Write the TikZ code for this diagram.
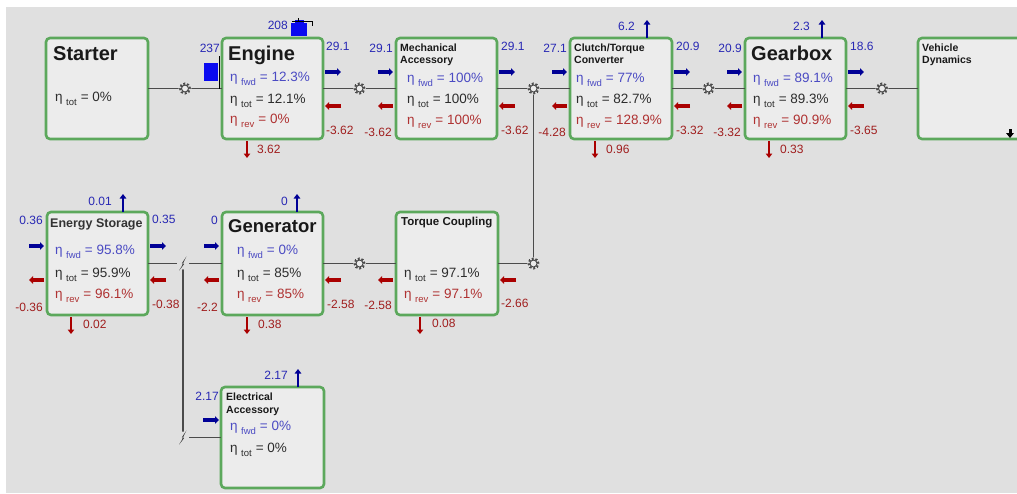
\documentclass[tikz,border=0pt]{standalone}
\usepackage{fontspec}
\setmainfont{Liberation Sans}
\usetikzlibrary{arrows.meta,calc}
\definecolor{bgc}{RGB}{224,224,224}
\definecolor{boxfill}{RGB}{236,236,236}
\definecolor{boxgreen}{RGB}{92,168,92}
\definecolor{connc}{RGB}{75,75,75}
\definecolor{numblue}{RGB}{40,40,180}
\definecolor{numred}{RGB}{160,30,30}
\definecolor{fwdblue}{RGB}{75,75,195}
\definecolor{totgray}{RGB}{45,45,45}
\definecolor{revred}{RGB}{175,50,50}
\definecolor{arrblue}{RGB}{0,0,150}
\definecolor{arrred}{RGB}{170,0,0}
\definecolor{fuelblue}{RGB}{10,10,240}
\newcommand\eline[2]{η\hspace{3.5pt}\raisebox{-4.5pt}{\fontsize{9.5}{9.5}\selectfont #1}\hspace{4pt}= #2}
\newcommand\lpair[2]{\draw[ba] (#1-18,#2-17) -- (#1-3,#2-17); \draw[ra] (#1-3,#2+17) -- (#1-18,#2+17);}
\newcommand\rpair[2]{\draw[ba] (#1+2,#2-17) -- (#1+18,#2-17); \draw[ra] (#1+18,#2+17) -- (#1+2,#2+17);}
\begin{document}
\begin{tikzpicture}[x=1pt,y=-1pt,
  blk/.style={draw=boxgreen, line width=2.6pt, fill=boxfill, rounded corners=4pt, anchor=north west, inner sep=0, outer sep=0},
  bigtitle/.style={font=\fontsize{20}{22}\selectfont\bfseries, text=black!90, inner sep=0, anchor=base west},
  smalltitle/.style={font=\fontsize{10.5}{12}\selectfont\bfseries, text=black!90, inner sep=0, anchor=base west},
  eta/.style={font=\fontsize{13.5}{14}\selectfont, inner sep=0, anchor=base west},
  fwd/.style={eta, text=fwdblue},
  tot/.style={eta, text=totgray},
  rev/.style={eta, text=revred},
  num/.style={font=\fontsize{12}{12}\selectfont, inner sep=0},
  bnum/.style={num, text=numblue},
  rnum/.style={num, text=numred},
  conn/.style={draw=connc, line width=1.3pt},
  ba/.style={draw=arrblue, line width=3.6pt, -{Triangle[length=4pt,width=7.5pt]}},
  ra/.style={draw=arrred, line width=3.6pt, -{Triangle[length=4pt,width=7.5pt]}},
  ua/.style={draw=arrblue, line width=2.4pt, -{Triangle[length=4.5pt,width=6.5pt]}},
  da/.style={draw=arrred, line width=2.8pt, -{Triangle[length=4.5pt,width=6.5pt]}},
  gear/.pic={
    \fill[bgc] (0,0) circle (6.4pt);
    \draw[connc, line width=2pt, dash pattern=on 1.9pt off 1.9pt] (0,0) circle (5pt);
    \draw[connc, line width=1pt, fill=boxfill] (0,0) circle (3.5pt);
  },
  bolt/.pic={
    \fill[bgc] (0,0) circle (6pt);
    \fill[black!80] (-3.8,7) -- (0.7,-0.7) -- (-1.1,-0.2) -- (3.5,-7) -- (-0.7,1.1) -- (1.1,0.6) -- cycle;
  }]
\useasboundingbox (0,0) rectangle (1017,493);
\clip (0,0) rectangle (1017,493);
\fill[white] (0,0) rectangle (1017,493);
\fill[bgc] (6,7) rectangle (1017,493);

% ---------- boxes ----------
\node[blk, minimum width=102pt, minimum height=101pt] (starter) at (46,38) {};
\node[blk, minimum width=101pt, minimum height=101pt] (engine) at (222,38) {};
\node[blk, minimum width=101pt, minimum height=101pt] (mech) at (396,38) {};
\node[blk, minimum width=102pt, minimum height=101pt] (clutch) at (570,38) {};
\node[blk, minimum width=101pt, minimum height=101pt] (gearbox) at (745,38) {};
\node[blk, minimum width=106pt, minimum height=101pt] (vehicle) at (918,38) {};
\node[blk, minimum width=101pt, minimum height=103pt] (es) at (47,212) {};
\node[blk, minimum width=101pt, minimum height=103pt] (gen) at (222,212) {};
\node[blk, minimum width=102pt, minimum height=103pt] (tc) at (396,212) {};
\node[blk, minimum width=103pt, minimum height=101pt] (elec) at (221,387) {};

% ---------- connectors ----------
\coordinate (g0) at ($(starter.east)!0.5!(engine.west)$);
\coordinate (g1) at ($(engine.east)!0.5!(mech.west)$);
\coordinate (g2) at ($(mech.east)!0.5!(clutch.west)$);
\coordinate (g3) at ($(clutch.east)!0.5!(gearbox.west)$);
\coordinate (g4) at ($(gearbox.east)!0.5!(vehicle.west)$);
\coordinate (g5) at ($(gen.east)!0.5!(tc.west)$);
\coordinate (g6) at (g2 |- tc.east);
\coordinate (e1) at ($(es.east)!0.5!(gen.west)+(-2,0)$);
\coordinate (e2) at (e1 |- elec.west);
\draw[conn] (starter.east) -- (engine.west);
\draw[conn] (engine.east) -- (mech.west);
\draw[conn] (mech.east) -- (clutch.west);
\draw[conn] (clutch.east) -- (gearbox.west);
\draw[conn] (gearbox.east) -- (vehicle.west);
\draw[conn] (gen.east) -- (tc.west);
\draw[conn] (tc.east) -- (g6) -- (g2);
\draw[conn] (es.east) -- (gen.west);
\draw[conn] (e1) -- (e2) -- (elec.west);
\pic at (g0) {gear};
\pic at (g1) {gear};
\pic at (g2) {gear};
\pic at (g3) {gear};
\pic at (g4) {gear};
\pic at (g5) {gear};
\pic at (g6) {gear};
\pic at (e1) {bolt};
\pic at (e2) {bolt};

% ---------- engine fuel icons ----------
\fill[fuelblue] (204,63) rectangle (218,81);
\draw[black, line width=0.9pt] (219,56) -- (219,89);
\fill[fuelblue] (291,23) rectangle (307,36);
\fill[fuelblue] (295,20) rectangle (304,24);
\draw[black, line width=1pt] (292,21.5) -- (312,21.5) -- (312,26);
\draw[black, line width=1pt] (298,21.5) -- (298,17.5);

% ---------- Starter ----------
\node[bigtitle] (starterT) at (53,60) {Starter};
\node[tot] (starterTot) at (55,101) {\eline{tot}{0\%}};

% ---------- Engine ----------
\node[bigtitle] (engineT) at (228,60) {Engine};
\node[fwd] (engineF) at (230,81) {\eline{fwd}{12.3\%}};
\node[tot] (engineO) at (230,103) {\eline{tot}{12.1\%}};
\node[rev] (engineR) at (230,123) {\eline{rev}{0\%}};
\node[bnum, anchor=base east] (engineIn) at (220,52) {237};
\node[bnum, anchor=base east] (engineTop) at (288,29) {208};
\node[bnum, anchor=base west] (engineOut) at (326,50) {29.1};
\node[rnum, anchor=base west] (engineRev) at (326,134) {-3.62};
\node[rnum, anchor=base west] (engineLoss) at (257,153) {3.62};
\rpair{323}{89}
\draw[da] (247,141) -- (247,158);

% ---------- Mechanical Accessory ----------
\node[smalltitle] (mechT1) at (400,51) {Mechanical};
\node[smalltitle] (mechT2) at (400,63) {Accessory};
\node[fwd] (mechF) at (407,82) {\eline{fwd}{100\%}};
\node[tot] (mechO) at (407,103) {\eline{tot}{100\%}};
\node[rev] (mechR) at (407,124) {\eline{rev}{100\%}};
\node[bnum, anchor=base east] (mechIn) at (393,52) {29.1};
\node[bnum, anchor=base west] (mechOut) at (501,50) {29.1};
\node[rnum, anchor=base east] (mechRin) at (392,136) {-3.62};
\node[rnum, anchor=base west] (mechRout) at (501,134) {-3.62};
\lpair{396}{89}
\rpair{497}{89}

% ---------- Clutch ----------
\node[smalltitle] (clutchT1) at (574,51) {Clutch/Torque};
\node[smalltitle] (clutchT2) at (574,63) {Converter};
\node[fwd] (clutchF) at (576,82) {\eline{fwd}{77\%}};
\node[tot] (clutchO) at (576,103) {\eline{tot}{82.7\%}};
\node[rev] (clutchR) at (576,124) {\eline{rev}{128.9\%}};
\node[bnum, anchor=base east] (clutchIn) at (567,52) {27.1};
\node[bnum, anchor=base west] (clutchOut) at (676,50) {20.9};
\node[rnum, anchor=base east] (clutchRin) at (566,136) {-4.28};
\node[rnum, anchor=base west] (clutchRout) at (676,134) {-3.32};
\node[bnum, anchor=base east] (clutchUp) at (635,30) {6.2};
\node[rnum, anchor=base west] (clutchLoss) at (606,153) {0.96};
\lpair{570}{89}
\rpair{672}{89}
\draw[ua] (647,38) -- (647,20);
\draw[da] (595,141) -- (595,158);

% ---------- Gearbox ----------
\node[bigtitle] (gearboxT) at (751,60) {Gearbox};
\node[fwd] (gearboxF) at (753,82) {\eline{fwd}{89.1\%}};
\node[tot] (gearboxO) at (753,103) {\eline{tot}{89.3\%}};
\node[rev] (gearboxR) at (753,124) {\eline{rev}{90.9\%}};
\node[bnum, anchor=base east] (gearboxIn) at (742,52) {20.9};
\node[bnum, anchor=base west] (gearboxOut) at (850,50) {18.6};
\node[rnum, anchor=base east] (gearboxRin) at (741,136) {-3.32};
\node[rnum, anchor=base west] (gearboxRout) at (850,134) {-3.65};
\node[bnum, anchor=base east] (gearboxUp) at (810,30) {2.3};
\node[rnum, anchor=base west] (gearboxLoss) at (780,153) {0.33};
\lpair{745}{89}
\rpair{846}{89}
\draw[ua] (822,38) -- (822,20);
\draw[da] (769,141) -- (769,158);

% ---------- Vehicle Dynamics ----------
\node[smalltitle] (vehT1) at (922,51) {Vehicle};
\node[smalltitle] (vehT2) at (922,63) {Dynamics};
\fill[black] (1008.5,129) rectangle (1011.5,133);
\fill[black] (1006,133) -- (1014,133) -- (1010,138) -- cycle;

% ---------- Energy Storage ----------
\node[smalltitle, font=\fontsize{12.5}{14}\selectfont\bfseries, text=black!80] (esT) at (50,227) {Energy Storage};
\node[fwd] (esF) at (55,254) {\eline{fwd}{95.8\%}};
\node[tot] (esO) at (55,277) {\eline{tot}{95.9\%}};
\node[rev] (esR) at (55,298) {\eline{rev}{96.1\%}};
\node[bnum, anchor=base east] (esIn) at (43,224) {0.36};
\node[bnum, anchor=base west] (esOut) at (152,223) {0.35};
\node[rnum, anchor=base east] (esRin) at (43,311) {-0.36};
\node[rnum, anchor=base west] (esRout) at (152,308) {-0.38};
\node[bnum, anchor=base east] (esUp) at (112,205) {0.01};
\node[rnum, anchor=base west] (esLoss) at (83,328) {0.02};
\lpair{47}{263}
\rpair{148}{263}
\draw[ua] (123,212) -- (123,194);
\draw[da] (71,317) -- (71,334);

% ---------- Generator ----------
\node[bigtitle, font=\fontsize{18.5}{20}\selectfont\bfseries] (genT) at (228,232) {Generator};
\node[fwd] (genF) at (237,254) {\eline{fwd}{0\%}};
\node[tot] (genO) at (237,277) {\eline{tot}{85\%}};
\node[rev] (genR) at (237,298) {\eline{rev}{85\%}};
\node[bnum, anchor=base east] (genIn) at (218,224) {0};
\node[rnum, anchor=base east] (genRin) at (218,311) {-2.2};
\node[rnum, anchor=base west] (genRout) at (327,308) {-2.58};
\node[bnum, anchor=base east] (genUp) at (288,205) {0};
\node[rnum, anchor=base west] (genLoss) at (258,328) {0.38};
\lpair{222}{263}
\draw[ra] (341,280) -- (325,280);
\draw[ua] (297,212) -- (297,194);
\draw[da] (247,317) -- (247,334);

% ---------- Torque Coupling ----------
\node[smalltitle, font=\fontsize{11.5}{13}\selectfont\bfseries] (tcT) at (401,225) {Torque Coupling};
\node[tot] (tcO) at (404,277) {\eline{tot}{97.1\%}};
\node[rev] (tcR) at (404,298) {\eline{rev}{97.1\%}};
\node[rnum, anchor=base east] (tcRin) at (392,309) {-2.58};
\node[rnum, anchor=base west] (tcRout) at (501,307) {-2.66};
\node[rnum, anchor=base west] (tcLoss) at (432,327) {0.08};
\draw[ra] (393,280) -- (378,280);
\draw[ra] (516,280) -- (500,280);
\draw[da] (420,317) -- (420,334);

% ---------- Electrical Accessory ----------
\node[smalltitle] (elecT1) at (226,400) {Electrical};
\node[smalltitle] (elecT2) at (226,413) {Accessory};
\node[fwd] (elecF) at (230,430) {\eline{fwd}{0\%}};
\node[tot] (elecO) at (230,452) {\eline{tot}{0\%}};
\node[bnum, anchor=base east] (elecIn) at (219,400) {2.17};
\node[bnum, anchor=base east] (elecUp) at (288,379) {2.17};
\draw[ba] (203,420) -- (219,420);
\draw[ua] (298,387) -- (298,369);
\end{tikzpicture}
\end{document}
